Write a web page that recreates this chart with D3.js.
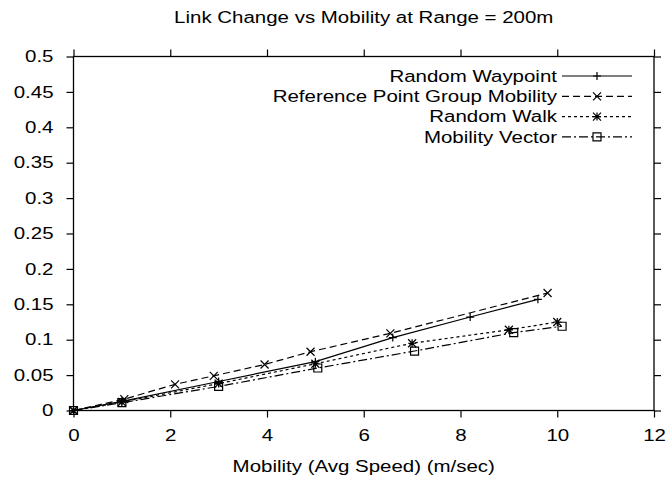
<!DOCTYPE html>
<html>
<head>
<meta charset="utf-8">
<script src="https://cdn.jsdelivr.net/npm/d3@7"></script>
<style>
  body { margin: 0; background: #fff; }
  text { font-family: "Liberation Sans", Arial, sans-serif; font-size: 16px; fill: #000; }
</style>
</head>
<body>
<svg id="chart"></svg>
<script>
// data
const seriesNames = ["Random Waypoint", "Reference Point Group Mobility", "Random Walk", "Mobility Vector"];

const waypointX = [0, 1, 3, 5, 6.6, 8.2, 9.6];
const waypointY = [0, 0.013, 0.041, 0.069, 0.103, 0.132, 0.157];

const rpgmX = [0, 1.05, 2.1, 2.9, 3.95, 4.9, 6.55, 9.8];
const rpgmY = [0, 0.016, 0.037, 0.049, 0.065, 0.083, 0.109, 0.166];

const walkX = [0, 1, 3, 5, 7, 9, 10];
const walkY = [0, 0.012, 0.038, 0.066, 0.095, 0.114, 0.125];

const vectorX = [0, 1, 3, 5.05, 7.05, 9.1, 10.1];
const vectorY = [0, 0.011, 0.034, 0.060, 0.084, 0.110, 0.119];

const xTicks = [0, 2, 4, 6, 8, 10, 12];
const yTicks = [0, 0.05, 0.1, 0.15, 0.2, 0.25, 0.3, 0.35, 0.4, 0.45, 0.5];

const titleText = "Link Change vs Mobility at Range = 200m";
const xLabelText = "Mobility (Avg Speed) (m/sec)";

const W = 669, H = 485;
const margin = { top: 56.5, right: 15, bottom: 74.5, left: 73.5 };
const width = W - margin.left - margin.right;
const height = H - margin.top - margin.bottom;
const sx = 1.28; // the original lettering is stretched wide

const svg = d3.select("#chart").attr("width", W).attr("height", H);
const chart = svg.append("g").attr("transform", `translate(${margin.left},${margin.top})`);

const x = d3.scaleLinear().domain([0, 12]).range([0, width]);
const y = d3.scaleLinear().domain([0, 0.5]).range([height, 0]);

const fmt = d => d === 0 ? "0" : String(+d.toFixed(2));

// axes, ticks outward and mirrored
const xAxis = chart.append("g").attr("transform", `translate(0,${height})`)
  .call(d3.axisBottom(x).tickValues(xTicks).tickFormat(fmt).tickSize(7).tickPadding(12));
const yAxis = chart.append("g")
  .call(d3.axisLeft(y).tickValues(yTicks).tickFormat(fmt).tickSize(7).tickPadding(13));
chart.append("g")
  .call(d3.axisTop(x).tickValues(xTicks).tickFormat("").tickSize(7));
chart.append("g").attr("transform", `translate(${width},0)`)
  .call(d3.axisRight(y).tickValues(yTicks).tickFormat("").tickSize(7));

chart.selectAll(".domain").remove();
chart.selectAll(".tick line").attr("stroke", "#000").attr("stroke-width", 1.2);
chart.append("rect")
  .attr("width", width).attr("height", height)
  .attr("fill", "none").attr("stroke", "#000").attr("stroke-width", 1.3);

// stretch tick labels
xAxis.selectAll(".tick text")
  .attr("font-size", 15).attr("font-family", null)
  .attr("transform", `scale(${sx},1)`);
yAxis.selectAll(".tick text")
  .attr("font-size", 15).attr("font-family", null)
  .attr("x", -20 / sx)
  .attr("transform", `scale(${sx},1)`);

function stretchedText(parent, px, py, str, anchor) {
  return parent.append("text")
    .attr("transform", `translate(${px},${py}) scale(${sx},1)`)
    .attr("text-anchor", anchor)
    .attr("dy", "0.35em")
    .text(str);
}

stretchedText(svg, margin.left + width / 2, 17, titleText, "middle");
stretchedText(svg, margin.left + width / 2, 466, xLabelText, "middle");

// series
const series = [
  { name: seriesNames[0], xs: waypointX, ys: waypointY, dash: null, mark: "plus" },
  { name: seriesNames[1], xs: rpgmX, ys: rpgmY, dash: "7,4", mark: "cross" },
  { name: seriesNames[2], xs: walkX, ys: walkY, dash: "3,3", mark: "star" },
  { name: seriesNames[3], xs: vectorX, ys: vectorY, dash: "9,3,2,3", mark: "box" }
];

function drawMark(g, type, cx, cy) {
  const s = 4;
  const p = d3.path();
  if (type === "plus" || type === "star") {
    p.moveTo(cx - s, cy); p.lineTo(cx + s, cy);
    p.moveTo(cx, cy - s); p.lineTo(cx, cy + s);
  }
  if (type === "cross" || type === "star") {
    p.moveTo(cx - s, cy - s); p.lineTo(cx + s, cy + s);
    p.moveTo(cx - s, cy + s); p.lineTo(cx + s, cy - s);
  }
  if (type === "box") {
    p.rect(cx - s, cy - s, 2 * s, 2 * s);
  }
  g.append("path").attr("d", p.toString())
    .attr("fill", "none").attr("stroke", "#000").attr("stroke-width", 1.2);
}

const line = d3.line().x(d => x(d[0])).y(d => y(d[1]));

series.forEach(s => {
  const pts = s.xs.map((v, i) => [v, s.ys[i]]);
  chart.append("path")
    .datum(pts)
    .attr("d", line)
    .attr("fill", "none")
    .attr("stroke", "#000")
    .attr("stroke-width", 1.2)
    .attr("stroke-dasharray", s.dash);
  const mg = chart.append("g");
  pts.forEach(p => drawMark(mg, s.mark, x(p[0]), y(p[1])));
});

// legend
const legend = svg.append("g");
series.forEach((s, i) => {
  const ly = 76 + i * 20.3;
  stretchedText(legend, 557, ly, s.name, "end");
  legend.append("line")
    .attr("x1", 562).attr("x2", 632).attr("y1", ly).attr("y2", ly)
    .attr("stroke", "#000").attr("stroke-width", 1.2)
    .attr("stroke-dasharray", s.dash);
  drawMark(legend, s.mark, 597, ly);
});
</script>
</body>
</html>
